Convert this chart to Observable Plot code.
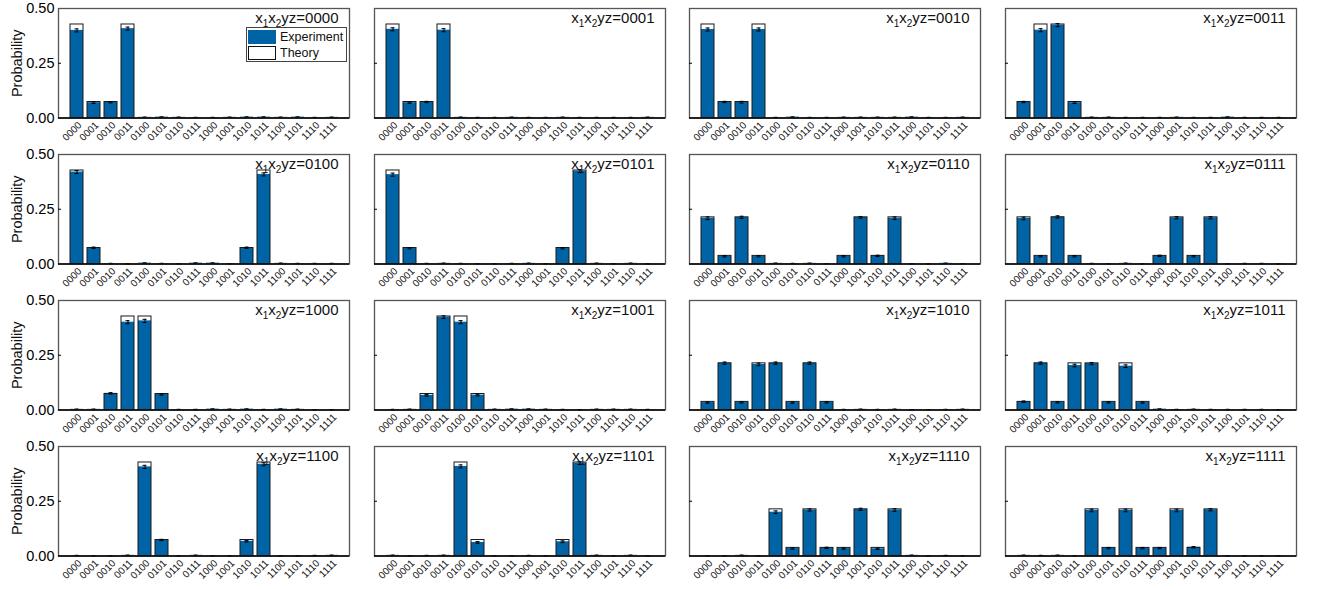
<!DOCTYPE html>
<html>
<head>
<meta charset="utf-8">
<script src="https://cdn.jsdelivr.net/npm/d3@7"></script>
<script src="https://cdn.jsdelivr.net/npm/@observablehq/plot@0.6"></script>
<style>
  html, body { margin: 0; padding: 0; background: white; }
  #chart { position: relative; width: 1321px; height: 589px; font-family: "Liberation Sans", Arial, sans-serif; }
  #chart svg { position: absolute; max-width: none; }
  .legend { position: absolute; left: 246px; top: 27px; width: 99px; height: 33px; border: 1px solid #444; background: white; font-size: 12.5px; color: #111; }
  .legend .row { position: absolute; left: 0; height: 15px; display: flex; align-items: center; }
  .legend .sw { width: 28px; height: 14px; margin-left: 1px; box-sizing: border-box; }
  .legend .lab { margin-left: 4px; }
</style>
</head>
<body>
<div id="chart"></div>
<script>
const states = ["0000","0001","0010","0011","0100","0101","0110","0111","1000","1001","1010","1011","1100","1101","1110","1111"];
const settings = ["0000","0001","0010","0011","0100","0101","0110","0111","1000","1001","1010","1011","1100","1101","1110","1111"];
const seriesNames = ["Experiment", "Theory"];

const experiment = [
  [0.400,0.070,0.072,0.408,0.003,0.004,0.003,0.002,0.002,0.003,0.004,0.004,0.003,0.004,0.002,0.003],
  [0.405,0.070,0.073,0.401,0.003,0.002,0.002,0.003,0.002,0.002,0.003,0.002,0.002,0.002,0.002,0.003],
  [0.404,0.073,0.072,0.404,0.002,0.004,0.002,0.002,0.003,0.003,0.003,0.003,0.004,0.002,0.002,0.003],
  [0.073,0.401,0.424,0.070,0.003,0.003,0.002,0.002,0.002,0.003,0.002,0.002,0.004,0.002,0.002,0.002],
  [0.420,0.074,0.002,0.001,0.004,0.002,0.001,0.004,0.004,0.001,0.074,0.409,0.003,0.002,0.002,0.002],
  [0.408,0.072,0.002,0.003,0.002,0.001,0.001,0.002,0.003,0.001,0.072,0.424,0.003,0.001,0.003,0.001],
  [0.209,0.035,0.213,0.035,0.003,0.002,0.003,0.001,0.035,0.213,0.037,0.209,0.001,0.001,0.003,0.001],
  [0.208,0.035,0.215,0.035,0.002,0.001,0.003,0.001,0.037,0.211,0.035,0.211,0.001,0.002,0.002,0.001],
  [0.003,0.003,0.076,0.401,0.407,0.071,0.002,0.002,0.004,0.003,0.004,0.002,0.004,0.003,0.001,0.001],
  [0.002,0.003,0.067,0.424,0.401,0.068,0.003,0.004,0.004,0.003,0.002,0.001,0.003,0.003,0.003,0.002],
  [0.034,0.214,0.035,0.208,0.214,0.034,0.214,0.035,0.002,0.003,0.002,0.003,0.001,0.001,0.002,0.003],
  [0.038,0.214,0.035,0.203,0.212,0.035,0.200,0.034,0.004,0.002,0.003,0.002,0.002,0.002,0.002,0.001],
  [0.002,0.001,0.001,0.003,0.407,0.073,0.001,0.003,0.001,0.001,0.067,0.419,0.001,0.001,0.002,0.003],
  [0.003,0.001,0.002,0.003,0.409,0.062,0.001,0.001,0.002,0.001,0.065,0.424,0.003,0.001,0.003,0.001],
  [0.001,0.001,0.003,0.001,0.200,0.034,0.210,0.037,0.034,0.213,0.033,0.210,0.003,0.001,0.002,0.001],
  [0.003,0.002,0.003,0.001,0.208,0.036,0.208,0.036,0.036,0.208,0.040,0.211,0.001,0.001,0.001,0.001]
];

const theory = [
  [0.427,0.073,0.073,0.427,0,0,0,0,0,0,0,0,0,0,0,0],
  [0.427,0.073,0.073,0.427,0,0,0,0,0,0,0,0,0,0,0,0],
  [0.427,0.073,0.073,0.427,0,0,0,0,0,0,0,0,0,0,0,0],
  [0.073,0.427,0.427,0.073,0,0,0,0,0,0,0,0,0,0,0,0],
  [0.427,0.073,0,0,0,0,0,0,0,0,0.073,0.427,0,0,0,0],
  [0.427,0.073,0,0,0,0,0,0,0,0,0.073,0.427,0,0,0,0],
  [0.213,0.037,0.213,0.037,0,0,0,0,0.037,0.213,0.037,0.213,0,0,0,0],
  [0.213,0.037,0.213,0.037,0,0,0,0,0.037,0.213,0.037,0.213,0,0,0,0],
  [0,0,0.073,0.427,0.427,0.073,0,0,0,0,0,0,0,0,0,0],
  [0,0,0.073,0.427,0.427,0.073,0,0,0,0,0,0,0,0,0,0],
  [0.037,0.213,0.037,0.213,0.213,0.037,0.213,0.037,0,0,0,0,0,0,0,0],
  [0.037,0.213,0.037,0.213,0.213,0.037,0.213,0.037,0,0,0,0,0,0,0,0],
  [0,0,0,0,0.427,0.073,0,0,0,0,0.073,0.427,0,0,0,0],
  [0,0,0,0,0.427,0.073,0,0,0,0,0.073,0.427,0,0,0,0],
  [0,0,0,0,0.213,0.037,0.213,0.037,0.037,0.213,0.037,0.213,0,0,0,0],
  [0,0,0,0,0.213,0.037,0.213,0.037,0.037,0.213,0.037,0.213,0,0,0,0]
];

const errors = [
  [0.007,0.004,0.003,0.007,0.001,0.001,0.001,0.001,0.001,0.001,0.001,0.001,0.001,0.001,0.001,0.001],
  [0.007,0.003,0.003,0.007,0.001,0.001,0.001,0.001,0.001,0.001,0.001,0.001,0.001,0.001,0.001,0.001],
  [0.007,0.003,0.004,0.007,0.001,0.001,0.001,0.001,0.001,0.001,0.001,0.001,0.001,0.001,0.001,0.001],
  [0.003,0.007,0.007,0.004,0.001,0.001,0.001,0.001,0.001,0.001,0.001,0.001,0.001,0.001,0.001,0.001],
  [0.007,0.003,0.001,0.001,0.001,0.001,0.001,0.001,0.001,0.001,0.003,0.007,0.001,0.001,0.001,0.001],
  [0.007,0.003,0.001,0.001,0.001,0.001,0.001,0.001,0.001,0.001,0.003,0.007,0.001,0.001,0.001,0.001],
  [0.006,0.003,0.005,0.003,0.001,0.001,0.001,0.001,0.003,0.004,0.003,0.006,0.001,0.001,0.001,0.001],
  [0.006,0.003,0.005,0.003,0.001,0.001,0.001,0.001,0.003,0.005,0.003,0.005,0.001,0.001,0.001,0.001],
  [0.001,0.001,0.003,0.007,0.007,0.003,0.001,0.001,0.001,0.001,0.001,0.001,0.001,0.001,0.001,0.001],
  [0.001,0.001,0.004,0.006,0.007,0.004,0.001,0.001,0.001,0.001,0.001,0.001,0.001,0.001,0.001,0.001],
  [0.003,0.005,0.003,0.006,0.005,0.003,0.005,0.003,0.001,0.001,0.001,0.001,0.001,0.001,0.001,0.001],
  [0.003,0.005,0.003,0.006,0.005,0.003,0.006,0.003,0.001,0.001,0.001,0.001,0.001,0.001,0.001,0.001],
  [0.001,0.001,0.001,0.001,0.007,0.003,0.001,0.001,0.001,0.001,0.003,0.007,0.001,0.001,0.001,0.001],
  [0.001,0.001,0.001,0.001,0.007,0.004,0.001,0.001,0.001,0.001,0.004,0.006,0.001,0.001,0.001,0.001],
  [0.001,0.001,0.001,0.001,0.006,0.003,0.005,0.003,0.003,0.005,0.003,0.006,0.001,0.001,0.001,0.001],
  [0.001,0.001,0.001,0.001,0.006,0.003,0.006,0.003,0.003,0.006,0.003,0.005,0.001,0.001,0.001,0.001]
];

const yTicks = [0, 0.25, 0.5];
const blue = "#0063a6";
const font = '"Liberation Sans", Arial, sans-serif';

const chart = document.getElementById("chart");

settings.forEach((setting, i) => {
  const row = Math.floor(i / 4), col = i % 4;
  const data = states.map((s, j) => ({
    state: s,
    exp: experiment[i][j],
    th: theory[i][j],
    lo: experiment[i][j] - errors[i][j],
    hi: experiment[i][j] + errors[i][j]
  }));
  const marks = [
    Plot.barY(data, {x: "state", y: "th", fill: "white"}),
    Plot.barY(data, {x: "state", y: "exp", fill: blue}),
    Plot.barY(data, {x: "state", y: "th", fill: "none", stroke: "#1a1a1a", strokeWidth: 1}),
    Plot.ruleX(data, {x: "state", y1: "lo", y2: "hi", stroke: "black", strokeWidth: 1}),
    Plot.tickY(data, {x: "state", y: "lo", stroke: "black", strokeWidth: 1, insetLeft: 4.5, insetRight: 4.5}),
    Plot.tickY(data, {x: "state", y: "hi", stroke: "black", strokeWidth: 1, insetLeft: 4.5, insetRight: 4.5}),
    Plot.frame({stroke: "#555", strokeWidth: 1.3}),
    Plot.ruleY([0], {stroke: "black", strokeWidth: 1.6}),
    Plot.axisX({tickSize: 0, tickPadding: 0, text: null, label: null}),
    Plot.text(states, {x: d => d, frameAnchor: "bottom", dx: 3, dy: 5.5, rotate: -45, textAnchor: "end", lineAnchor: "middle", fontSize: 10, fill: "#111"}),
    Plot.axisY({ticks: [0.25], tickSize: 3, dx: 3, tickFormat: () => "", label: null}),
    Plot.text([`x1x2yz=${setting}`], {frameAnchor: "top-right", dx: -11, dy: 4, lineAnchor: "top", textAnchor: "end", fontSize: 15, fill: "#111"})
  ];
  if (col === 0) {
    marks.push(
      Plot.axisY({ticks: yTicks, tickFormat: d3.format(".2f"), tickSize: 0, tickPadding: 4, fontSize: 14.5, label: null}),
      Plot.text(["Probability"], {frameAnchor: "left", dx: -41, rotate: -90, textAnchor: "middle", fontSize: 14.5, fill: "#111"})
    );
  }
  const svg = Plot.plot({
    width: 359,
    height: 150,
    marginLeft: 58,
    marginRight: 10,
    marginTop: 8,
    marginBottom: 32.5,
    style: {background: "transparent", fontFamily: font, overflow: "visible", maxWidth: "none"},
    x: {type: "band", domain: states, paddingInner: 0.26, paddingOuter: 0.59},
    y: {domain: [0, 0.5]},
    marks
  });
  svg.style.left = (col * 315.6) + "px";
  svg.style.top = (row * 146) + "px";
  // rebuild title with subscripts
  d3.select(svg).selectAll("text")
    .filter(function () { return this.textContent.startsWith("x1x2yz="); })
    .each(function () {
      const t = d3.select(this);
      const rest = this.textContent.slice(4);
      t.text(null);
      t.append("tspan").text("x");
      t.append("tspan").attr("font-size", "10px").attr("dy", "4").text("1");
      t.append("tspan").attr("dy", "-4").text("x");
      t.append("tspan").attr("font-size", "10px").attr("dy", "4").text("2");
      t.append("tspan").attr("dy", "-4").text(rest);
    });
  chart.appendChild(svg);
});

// legend inside the first panel
const legend = document.createElement("div");
legend.className = "legend";
legend.innerHTML =
  `<div class="row" style="top:1px"><div class="sw" style="background:${blue}"></div><span class="lab">${seriesNames[0]}</span></div>` +
  `<div class="row" style="top:17px"><div class="sw" style="background:white;border:1.2px solid #111"></div><span class="lab">${seriesNames[1]}</span></div>`;
chart.appendChild(legend);
</script>
</body>
</html>
